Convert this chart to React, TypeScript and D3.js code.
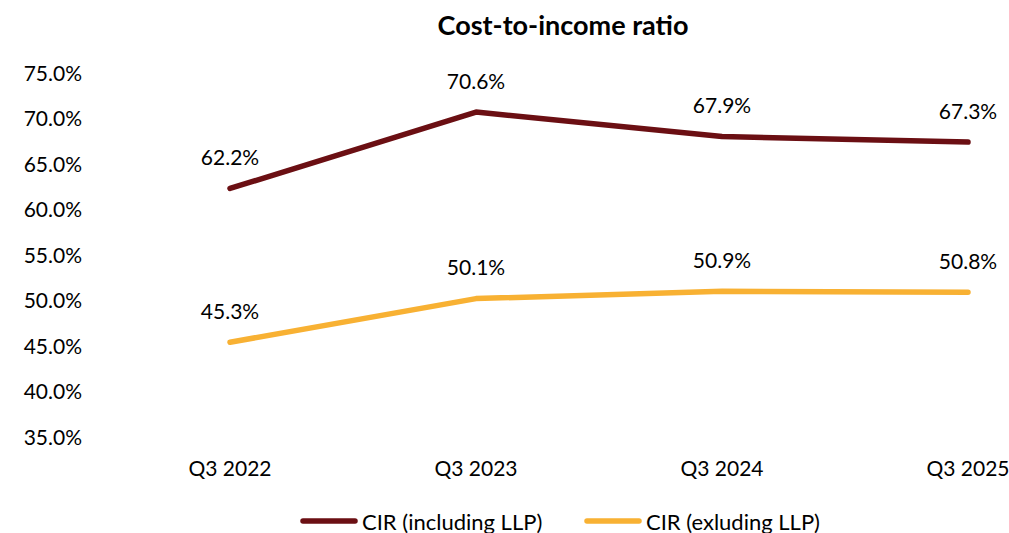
import React from "react";
import * as d3 from "d3";

const width = 1009;
const height = 533;
const font = "Lato, 'Open Sans', sans-serif";

const quarters = ["Q3 2022", "Q3 2023", "Q3 2024", "Q3 2025"];
const cirIncl = [62.2, 70.6, 67.9, 67.3];
const cirExcl = [45.3, 50.1, 50.9, 50.8];
const yTicks = [35, 40, 45, 50, 55, 60, 65, 70, 75];

const series = [
  { name: "CIR (including LLP)", values: cirIncl, color: "#6b0f13" },
  { name: "CIR (exluding LLP)", values: cirExcl, color: "#f8b133" },
];

const x = d3.scalePoint<string>().domain(quarters).range([230, 968]);
const y = d3.scaleLinear().domain([35, 75]).range([436, 72]);

const line = d3
  .line<number>()
  .x((_, i) => x(quarters[i]) as number)
  .y((d) => y(d));

const legendX = [303, 587];
const fs = 21;

export default function App() {
  return (
    <svg
      width={width}
      height={height}
      style={{ position: "absolute", left: 0, top: 0, background: "#fff" }}
      fontFamily={font}
    >
      <text x={563} y={24} textAnchor="middle" dominantBaseline="central" fontSize={27} fontWeight="bold" fill="#000">
        Cost-to-income ratio
      </text>

      {yTicks.map((t) => (
        <text key={t} x={82} y={y(t)} textAnchor="end" dominantBaseline="central" fontSize={fs} fill="#000">
          {d3.format(".1f")(t)}%
        </text>
      ))}

      {quarters.map((q) => (
        <text key={q} x={x(q)} y={467} textAnchor="middle" dominantBaseline="central" fontSize={fs} fill="#000">
          {q}
        </text>
      ))}

      {series.map((s) => (
        <g key={s.name}>
          <path d={line(s.values) ?? ""} fill="none" stroke={s.color} strokeWidth={5.5} strokeLinecap="round" strokeLinejoin="round" />
          {s.values.map((v, i) => (
            <text
              key={i}
              x={x(quarters[i])}
              y={y(v) - 32}
              textAnchor="middle"
              dominantBaseline="central"
              fontSize={fs}
              fill="#000"
            >
              {v.toFixed(1)}%
            </text>
          ))}
        </g>
      ))}

      {series.map((s, i) => (
        <g key={s.name} transform={`translate(${legendX[i]}, 521)`}>
          <line x1={0} x2={52} y1={0} y2={0} stroke={s.color} strokeWidth={5.5} strokeLinecap="round" />
          <text x={59} y={0} dominantBaseline="central" fontSize={22} fill="#000">
            {s.name}
          </text>
        </g>
      ))}
    </svg>
  );
}
